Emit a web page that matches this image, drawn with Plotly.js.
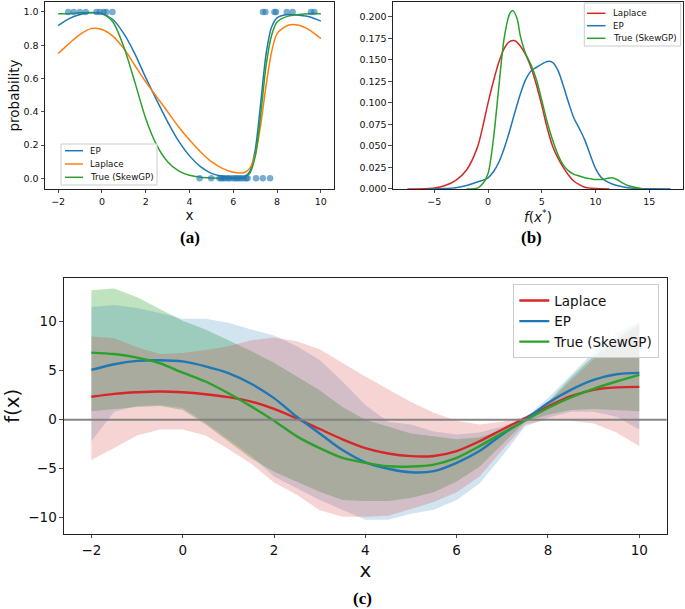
<!DOCTYPE html>
<html>
<head>
<meta charset="utf-8">
<script src="https://cdn.plot.ly/plotly-3.0.1.min.js"></script>
<style>html,body{margin:0;padding:0;background:#fff;}#chart{width:685px;height:609px;}</style>
</head>
<body>
<div id="chart"></div>
<script>
// ---------- Panel (a): predictive class probability ----------
const xA = [-2,-1.5,-1,-0.5,0,0.5,1,1.5,2,2.5,3,3.5,4,4.5,5,5.5,6,6.5,6.75,7,7.25,7.5,7.75,8,8.5,9,9.5,10];
const epA = [0.918,0.96,0.985,0.995,0.99,0.955,0.87,0.75,0.605,0.47,0.34,0.225,0.135,0.07,0.03,0.012,0.005,0.01,0.04,0.17,0.45,0.75,0.91,0.965,0.985,0.98,0.97,0.945];
const laplaceA = [0.75,0.81,0.865,0.9,0.895,0.855,0.78,0.68,0.58,0.49,0.4,0.31,0.23,0.16,0.1,0.06,0.036,0.035,0.06,0.14,0.32,0.56,0.76,0.87,0.92,0.92,0.89,0.84];
const trueA = [0.99,0.99,0.995,0.997,0.99,0.94,0.79,0.58,0.36,0.2,0.1,0.045,0.018,0.006,0.002,0.001,0.001,0.005,0.03,0.13,0.38,0.68,0.86,0.94,0.975,0.985,0.99,0.99];
const posX = [-1.54,-1.29,-1.01,-0.74,-0.25,-0.1,0.08,0.2,0.48,7.35,7.47,7.88,7.95,8.44,8.71,9.55,9.7];
const negX = [4.46,4.99,5.37,5.45,5.52,5.62,5.75,5.83,5.98,6.08,6.16,6.26,6.36,6.48,6.59,6.65,7.04,7.35,7.68];
const posY = posX.map(() => 1);
const negY = negX.map(() => 0);
const legendA = ['EP', 'Laplace', 'True (SkewGP)'];

// ---------- Panel (b): density of f(x*) ----------
const xLapK = [-7.5,-6,-5,-4,-3,-2,-1,-0.5,0,0.5,1,1.5,2,2.5,3,3.5,4,4.5,5,5.5,6,6.5,7,7.5,8,8.5,9,10,11.3];
const lapK  = [0,0.0003,0.001,0.004,0.01,0.022,0.048,0.072,0.1,0.125,0.147,0.163,0.171,0.172,0.166,0.156,0.141,0.121,0.097,0.071,0.05,0.036,0.025,0.016,0.009,0.005,0.002,0.0005,0];
const xEpK  = [-5.7,-4,-3,-2,-1,0,0.5,1,1.5,2,2.5,3,3.5,4,4.5,5,5.5,6,6.5,7,7.5,8,8.5,9,9.5,10,10.5,11,11.5,12,13,14,15,17];
const epK   = [0,0.0005,0.0015,0.004,0.008,0.013,0.02,0.031,0.047,0.067,0.089,0.11,0.127,0.137,0.141,0.145,0.148,0.147,0.138,0.12,0.1,0.082,0.07,0.057,0.04,0.024,0.014,0.009,0.006,0.004,0.0015,0.0005,0.0002,0];
const xTrueK = [-2,-1,-0.5,0,0.5,1,1.5,2,2.3,2.7,3,3.5,4,4.5,5,5.5,6,6.5,7,7.5,8,8.5,9,9.5,10,10.5,11,11.5,12,12.5,13,14,14.5];
const trueK  = [0,0.001,0.006,0.018,0.058,0.118,0.175,0.203,0.207,0.198,0.178,0.157,0.144,0.127,0.103,0.078,0.057,0.04,0.028,0.021,0.017,0.015,0.013,0.012,0.011,0.011,0.012,0.013,0.011,0.007,0.004,0.001,0];
const legendB = ['Laplace', 'EP', 'True (SkewGP)'];

// ---------- Panel (c): latent function with credible bands ----------
const xC = [-2,-1.5,-1,-0.5,0,0.5,1,1.5,2,2.5,3,3.5,4,4.5,5,5.5,6,6.5,7,7.5,8,8.5,9,9.5,10];
const lapMean  = [2.34,2.64,2.8,2.88,2.8,2.6,2.3,1.85,1.1,0.12,-0.95,-2.0,-2.9,-3.45,-3.72,-3.7,-3.2,-2.2,-1.0,0.17,1.35,2.4,3.05,3.3,3.35];
const epMean   = [5.08,5.66,6.0,6.07,5.95,5.45,4.76,3.67,2.2,0.3,-1.4,-3.1,-4.35,-5.0,-5.36,-5.25,-4.4,-3.2,-1.5,0.0,1.7,3.05,4.07,4.64,4.78];
const trueMean = [6.85,6.7,6.34,5.76,4.8,3.9,2.7,1.36,-0.1,-1.7,-2.9,-3.9,-4.4,-4.75,-4.78,-4.58,-3.9,-2.7,-1.36,-0.07,1.19,2.27,3.15,3.9,4.58];
const lapUp  = [8.5,8.3,7.4,6.7,6.8,7.1,7.5,8.1,8.4,8.0,7.2,5.8,4.4,3.1,1.8,0.7,-0.1,-0.5,-0.2,0.3,1.7,4.0,6.2,8.0,9.6];
const lapLo  = [-4.1,-2.9,-1.6,-1.0,-1.0,-1.6,-3.0,-4.5,-6.4,-7.65,-9.25,-9.9,-9.9,-9.8,-9.1,-8.4,-7.4,-5.8,-3.1,-0.5,0.0,-0.1,-0.4,-1.3,-2.7];
const epUp   = [11.5,11.7,11.4,10.9,10.3,10.3,9.9,9.2,8.6,7.5,6.1,3.9,1.5,-0.2,-0.5,-1.2,-1.5,-1.3,-0.7,0.2,2.2,4.6,6.9,8.8,10.0];
const epLo   = [-2.2,0.8,1.4,1.5,1.2,-0.3,-2.0,-3.7,-5.8,-7.0,-8.2,-9.2,-10.2,-10.2,-9.6,-9.2,-8.2,-6.5,-3.7,-0.7,0.2,0.8,0.8,0.3,-1.0];
const trueUp = [13.2,13.4,12.5,11.3,10.1,9.2,8.1,7.0,5.8,4.4,3.0,1.3,0.0,-0.7,-1.4,-1.7,-2.0,-1.8,-1.1,-0.1,1.8,4.3,6.5,8.3,9.8];
const trueLo = [0.85,1.1,1.3,1.4,1.0,-0.5,-2.2,-3.95,-5.3,-6.3,-7.35,-8.2,-8.3,-8.3,-8.0,-7.4,-6.3,-4.8,-2.5,-0.2,0.5,1.0,1.1,1.0,0.85];

// ---------- styling ----------
const C_BLUE = '#1f77b4', C_ORANGE = '#ff7f0e', C_GREEN = '#2ca02c', C_RED = '#d62728';
const W = 685, H = 609;
const px = v => v / W, py = v => 1 - v / H;

function band(xs, up, lo, color, xa, ya) {
  return {
    x: xs.concat(xs.slice().reverse()),
    y: up.concat(lo.slice().reverse()),
    type: 'scatter', mode: 'lines', fill: 'toself', fillcolor: color,
    line: {width: 0, color: 'rgba(0,0,0,0)'}, xaxis: xa, yaxis: ya,
    showlegend: false, hoverinfo: 'skip'
  };
}
function curve(xs, ys, name, color, w, xa, ya, leg, show) {
  return {x: xs, y: ys, name: name, type: 'scatter', mode: 'lines',
          line: {color: color, width: w, shape: 'spline', smoothing: 0.8},
          xaxis: xa, yaxis: ya, legend: leg, showlegend: show};
}

const traces = [
  // (a)
  curve(xA, epA, legendA[0], C_BLUE, 1.5, 'x', 'y', 'legend', false),
  curve(xA, laplaceA, legendA[1], C_ORANGE, 1.5, 'x', 'y', 'legend', false),
  curve(xA, trueA, legendA[2], C_GREEN, 1.5, 'x', 'y', 'legend', false),
  {x: posX, y: posY, type: 'scatter', mode: 'markers', xaxis: 'x', yaxis: 'y', showlegend: false,
   marker: {color: C_BLUE, opacity: 0.6, size: 6.5}},
  {x: negX, y: negY, type: 'scatter', mode: 'markers', xaxis: 'x', yaxis: 'y', showlegend: false,
   marker: {color: C_BLUE, opacity: 0.6, size: 6.5}},
  // (b)
  curve(xLapK, lapK, legendB[0], C_RED, 1.5, 'x2', 'y2', 'legend', false),
  curve(xEpK, epK, legendB[1], C_BLUE, 1.5, 'x2', 'y2', 'legend', false),
  curve(xTrueK, trueK, legendB[2], C_GREEN, 1.5, 'x2', 'y2', 'legend', false),
  // (c) bands: True first, then EP, then Laplace
  band(xC, trueUp, trueLo, 'rgba(44,160,44,0.3)', 'x3', 'y3'),
  band(xC, epUp, epLo, 'rgba(31,119,180,0.2)', 'x3', 'y3'),
  band(xC, lapUp, lapLo, 'rgba(214,39,40,0.2)', 'x3', 'y3'),
  curve(xC, lapMean, 'Laplace', C_RED, 2.4, 'x3', 'y3', 'legend3', true),
  curve(xC, epMean, 'EP', C_BLUE, 2.4, 'x3', 'y3', 'legend3', true),
  curve(xC, trueMean, 'True (SkewGP)', C_GREEN, 2.4, 'x3', 'y3', 'legend3', true)
];

// compact matplotlib-style legends for the two small panels
const shapes = [
  {type: 'line', xref: 'x3 domain', yref: 'y3', x0: 0, x1: 1, y0: 0, y1: 0,
   line: {color: 'rgba(128,128,128,0.95)', width: 2}, layer: 'above'}
];
const annotations = [];
function smallLegend(box, lineX, textX, rows, names, colors) {
  shapes.push({type: 'rect', xref: 'paper', yref: 'paper',
    x0: px(box[0]), x1: px(box[2]), y0: py(box[3]), y1: py(box[1]),
    fillcolor: 'rgba(255,255,255,0.8)', line: {color: '#cccccc', width: 1}, layer: 'above'});
  names.forEach((n, i) => {
    shapes.push({type: 'line', xref: 'paper', yref: 'paper', x0: px(lineX[0]), x1: px(lineX[1]),
      y0: py(rows[i]), y1: py(rows[i]), line: {color: colors[i], width: 1.5}, layer: 'above'});
    annotations.push({text: n, xref: 'paper', yref: 'paper', x: px(textX), y: py(rows[i]),
      xanchor: 'left', yanchor: 'middle', showarrow: false,
      font: {family: 'DejaVu Sans', size: 8.7, color: '#111'}});
  });
}
smallLegend([61, 144, 157, 185], [65, 83], 88, [150.7, 164, 177.3], legendA, [C_BLUE, C_ORANGE, C_GREEN]);
smallLegend([584.3, 3, 680.7, 46], [587, 605.5], 610.5, [13.3, 25.7, 38.3], legendB, [C_RED, C_BLUE, C_GREEN]);

const labelFont = {family: 'Liberation Serif', size: 17, color: '#000'};
annotations.push(
  {text: '<b>(a)</b>', xref: 'paper', yref: 'paper', x: px(190), y: py(238), xanchor: 'center', yanchor: 'middle', showarrow: false, font: labelFont},
  {text: '<b>(b)</b>', xref: 'paper', yref: 'paper', x: px(531), y: py(238), xanchor: 'center', yanchor: 'middle', showarrow: false, font: labelFont},
  {text: '<b>(c)</b>', xref: 'paper', yref: 'paper', x: px(362), y: py(598), xanchor: 'center', yanchor: 'middle', showarrow: false, font: labelFont}
);

const axBase = {showline: true, mirror: true, linecolor: '#222', linewidth: 1,
  ticks: 'outside', ticklen: 3.5, tickwidth: 0.8, tickcolor: '#222',
  showgrid: false, zeroline: false};
const small = {family: 'DejaVu Sans', size: 9.5, color: '#111'};
const big = {family: 'DejaVu Sans', size: 13.5, color: '#111'};

const layout = {
  width: W, height: H,
  margin: {l: 0, r: 0, t: 0, b: 0},
  paper_bgcolor: '#fff', plot_bgcolor: '#fff',
  font: {family: 'DejaVu Sans', color: '#111'},
  xaxis: Object.assign({}, axBase, {domain: [0.0657, 0.4876], range: [-2.6, 10.6], dtick: 2, tick0: 0, anchor: 'y',
    tickfont: small, title: {text: 'x', font: {family: 'DejaVu Sans', size: 13.5}, standoff: 4}}),
  yaxis: Object.assign({}, axBase, {domain: [0.6897, 0.9967], range: [-0.064, 1.06], dtick: 0.2, tick0: 0, tickformat: '.1f', anchor: 'x',
    tickfont: small, title: {text: 'probability', font: {family: 'DejaVu Sans', size: 13.5}, standoff: 0}}),
  xaxis2: Object.assign({}, axBase, {domain: [0.5737, 0.9971], range: [-8.85, 18.15], dtick: 5, tick0: 0, anchor: 'y2',
    tickfont: small, title: {text: '<i>f</i>(<i>x</i><sup>*</sup>)', font: {family: 'DejaVu Sans', size: 13.5}, standoff: 1}}),
  yaxis2: Object.assign({}, axBase, {domain: [0.6897, 0.9967], range: [0, 0.217], dtick: 0.025, tick0: 0, tickformat: '.3f', anchor: 'x2',
    tickfont: small}),
  xaxis3: Object.assign({}, axBase, {domain: [0.0934, 0.9733], range: [-2.6, 10.6], dtick: 2, tick0: 0, anchor: 'y3',
    tickfont: big, title: {text: 'x', font: {family: 'DejaVu Sans', size: 20}, standoff: 4}}),
  yaxis3: Object.assign({}, axBase, {domain: [0.1232, 0.544], range: [-11.66, 14.49], dtick: 5, tick0: 0, anchor: 'x3',
    tickfont: big, title: {text: 'f(x)', font: {family: 'DejaVu Sans', size: 20}, standoff: 3}}),
  legend3: {x: 0.9625, y: 0.5332, xanchor: 'right', yanchor: 'top', bgcolor: 'rgba(255,255,255,0.8)',
    bordercolor: '#cccccc', borderwidth: 1, font: {family: 'DejaVu Sans', size: 13.5, color: '#111'}},
  shapes: shapes,
  annotations: annotations
};

Plotly.newPlot('chart', traces, layout, {displayModeBar: false, staticPlot: true});
</script>
</body>
</html>
